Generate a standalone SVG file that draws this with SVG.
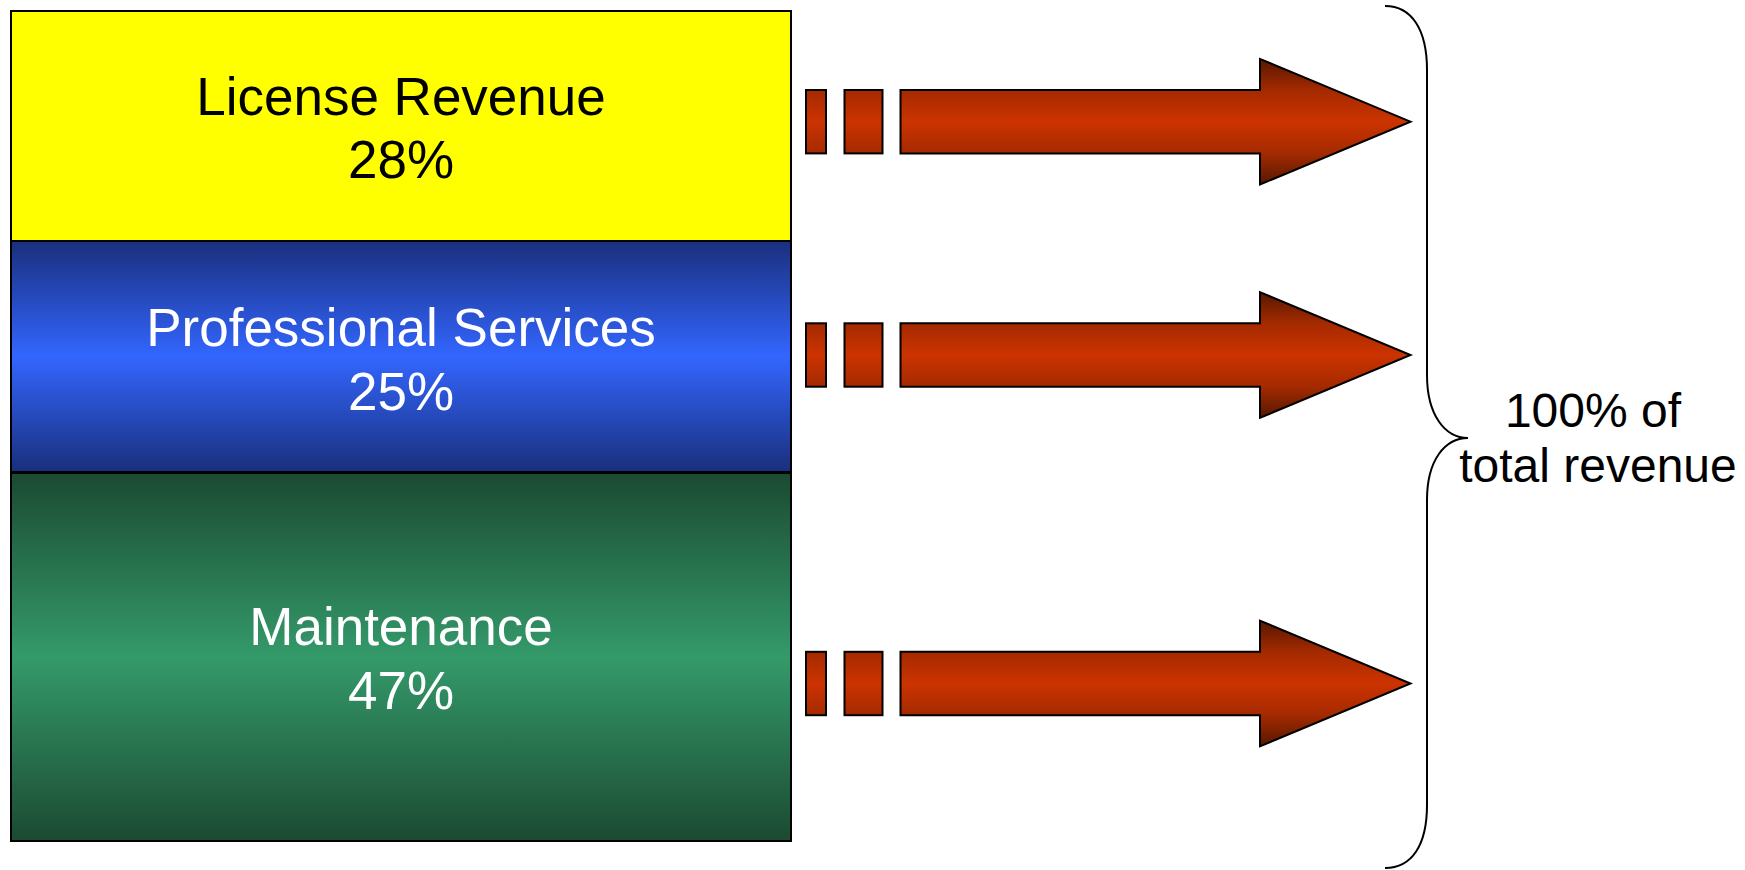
<svg xmlns="http://www.w3.org/2000/svg" width="1745" height="870" viewBox="0 0 1745 870">
<style>
.box{stroke:#000;stroke-width:2}
.lbl{font-family:"Liberation Sans",Arial,sans-serif;font-size:53px;text-anchor:middle}
.arr{fill:url(#gArrow);stroke:#000;stroke-width:2;stroke-linejoin:miter}
.brace{fill:none;stroke:#000;stroke-width:2}
.note{font-family:"Liberation Sans",Arial,sans-serif;font-size:48px;text-anchor:middle;fill:#000}
</style>
<defs>
<linearGradient id="gBlue" x1="0" y1="0" x2="0" y2="1">
<stop offset="0" stop-color="#1a2f7c"/>
<stop offset="0.5" stop-color="#3366ff"/>
<stop offset="1" stop-color="#1a2f7c"/>
</linearGradient>
<linearGradient id="gGreen" x1="0" y1="0" x2="0" y2="1">
<stop offset="0" stop-color="#1b4a32"/>
<stop offset="0.5" stop-color="#349a6a"/>
<stop offset="1" stop-color="#1b4a32"/>
</linearGradient>
<linearGradient id="gArrow" gradientUnits="userSpaceOnUse" x1="0" y1="-63" x2="0" y2="63">
<stop offset="0" stop-color="#561800"/>
<stop offset="0.25" stop-color="#a42a00"/>
<stop offset="0.5" stop-color="#cc3300"/>
<stop offset="0.75" stop-color="#a42a00"/>
<stop offset="1" stop-color="#561800"/>
</linearGradient>
<g id="arrowShape">
<rect class="arr" x="806" y="-31.7" width="20" height="63.4"/>
<rect class="arr" x="844.5" y="-31.7" width="38" height="63.4"/>
<path class="arr" d="M900.5,-31.7 L1260,-31.7 L1260,-62.8 L1410.5,0 L1260,62.8 L1260,31.7 L900.5,31.7 Z"/>
</g>
</defs>
<g id="license">
<rect class="box" x="11" y="11" width="780" height="230" fill="#ffff00"/>
<text class="lbl" x="401" y="115" fill="#000">License Revenue</text>
<text class="lbl" x="401" y="178" fill="#000">28%</text>
</g>
<g id="services">
<rect class="box" x="11" y="241" width="780" height="231" fill="url(#gBlue)"/>
<text class="lbl" x="401" y="346" fill="#fff">Professional Services</text>
<text class="lbl" x="401" y="410" fill="#fff">25%</text>
</g>
<g id="maintenance">
<rect class="box" x="11" y="473" width="780" height="368" fill="url(#gGreen)"/>
<text class="lbl" x="401" y="645" fill="#fff">Maintenance</text>
<text class="lbl" x="401" y="709" fill="#fff">47%</text>
</g>
<g id="connectors">
<use href="#arrowShape" transform="translate(0,121.7)"/>
<use href="#arrowShape" transform="translate(0,355)"/>
<use href="#arrowShape" transform="translate(0,683.5)"/>
</g>
<g id="total">
<path class="brace" d="M1385,6 C1412,6 1427,30 1427,70 L1427,375 C1427,415 1445,438 1468,438 C1445,438 1427,460 1427,500 L1427,805 C1427,845 1412,868 1385,868"/>
<text class="note" x="1593" y="427">100% of</text>
<text class="note" x="1598" y="482">total revenue</text>
</g>
</svg>
